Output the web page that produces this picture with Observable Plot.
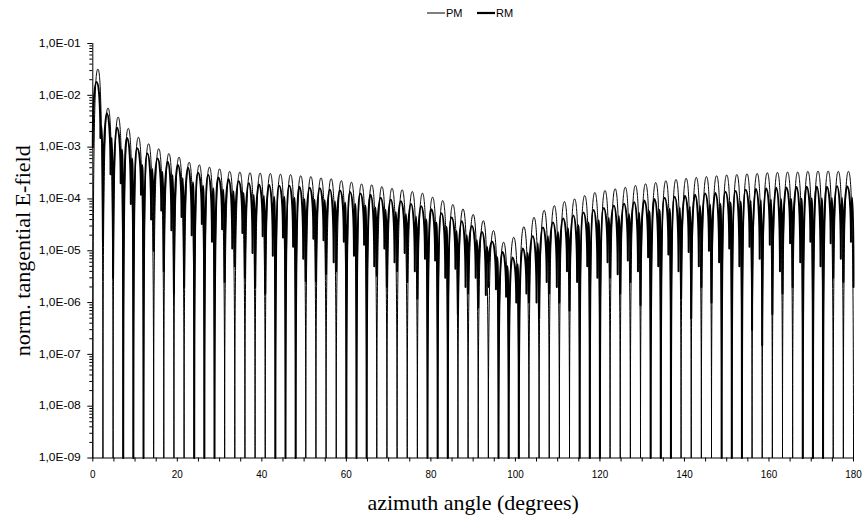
<!DOCTYPE html>
<html>
<head>
<meta charset="utf-8">
<script src="https://cdn.jsdelivr.net/npm/d3@7"></script>
<script src="https://cdn.jsdelivr.net/npm/@observablehq/plot@0.6"></script>
<style>
  body { margin: 0; background: #fff; }
  #wrap { width: 863px; height: 521px; position: relative; overflow: hidden; }
  #legend { height: 24px; position: relative; }
</style>
</head>
<body>
<div id="wrap">
  <div id="legend"></div>
  <div id="chart"></div>
</div>
<script>
// ---- data ----
const seriesNames = ["PM", "RM"];
const FLOOR = 1e-9;             // value at the bottom of the axis (nulls)
const F = FLOOR;
const period = 2.4;             // degrees between successive nulls
const yTickValues = [1e-9, 1e-8, 1e-7, 1e-6, 1e-5, 1e-4, 1e-3, 1e-2, 1e-1];
const xTickLabels = [0, 20, 40, 60, 80, 100, 120, 140, 160, 180];

// PM: lobe maxima (75 lobes); every null between lobes drops to the floor
const pmPeak = [
  3.2e-2, 5.7e-3, 3.8e-3, 2.3e-3, 1.55e-3, 1.16e-3, 9.3e-4, 7.5e-4, 6.4e-4, 5.1e-4,
  4.55e-4, 4.1e-4, 3.8e-4, 3.4e-4, 3.3e-4, 3.2e-4, 3.15e-4, 3.1e-4, 3.0e-4, 2.95e-4,
  2.8e-4, 2.7e-4, 2.55e-4, 2.45e-4, 2.25e-4, 2.1e-4, 1.95e-4, 1.87e-4, 1.73e-4, 1.6e-4,
  1.5e-4, 1.39e-4, 1.29e-4, 1.08e-4, 9.3e-5, 7.8e-5, 6.4e-5, 5.0e-5, 3.8e-5, 2.45e-5,
  1.46e-5, 1.82e-5, 2.9e-5, 4.4e-5, 6.0e-5, 7.4e-5, 8.9e-5, 1.0e-4, 1.16e-4, 1.33e-4,
  1.45e-4, 1.57e-4, 1.68e-4, 1.82e-4, 1.96e-4, 2.07e-4, 2.24e-4, 2.37e-4, 2.5e-4, 2.6e-4,
  2.7e-4, 2.8e-4, 2.9e-4, 2.95e-4, 3.05e-4, 3.1e-4, 3.2e-4, 3.25e-4, 3.3e-4, 3.3e-4,
  3.4e-4, 3.45e-4, 3.45e-4, 3.4e-4, 3.4e-4
];
const pmDip = new Array(76).fill(FLOOR);

// RM: lobe maxima (75 lobes)
const rmPeak = [
  1.8e-2, 4.5e-3, 2.4e-3, 1.5e-3, 9.5e-4, 7.5e-4, 6.0e-4, 5.2e-4, 4.5e-4, 4.0e-4,
  3.2e-4, 2.9e-4, 2.6e-4, 2.4e-4, 2.2e-4, 2.0e-4, 1.9e-4, 1.85e-4, 1.8e-4, 1.8e-4,
  1.7e-4, 1.65e-4, 1.6e-4, 1.5e-4, 1.45e-4, 1.35e-4, 1.28e-4, 1.2e-4, 1.05e-4, 9.7e-5,
  9.0e-5, 8.0e-5, 7.2e-5, 6.3e-5, 5.3e-5, 4.4e-5, 3.7e-5, 3.0e-5, 2.3e-5, 1.5e-5,
  9.5e-6, 7.4e-6, 1.1e-5, 1.9e-5, 2.8e-5, 3.5e-5, 4.2e-5, 4.8e-5, 5.5e-5, 6.1e-5,
  6.7e-5, 7.4e-5, 8.1e-5, 8.6e-5, 9.3e-5, 1.0e-4, 1.05e-4, 1.1e-4, 1.15e-4, 1.2e-4,
  1.27e-4, 1.3e-4, 1.37e-4, 1.43e-4, 1.5e-4, 1.55e-4, 1.6e-4, 1.65e-4, 1.67e-4, 1.7e-4,
  1.72e-4, 1.72e-4, 1.72e-4, 1.75e-4, 1.75e-4
];
// RM near each null n (n = 1..75): a shallow dip, a small rebound, then the deep dip
const rmDipA = [
  null, 1.5e-3, 3e-4, 2e-4, 8e-5, 1.2e-4, 4e-5, 6e-5, 2.5e-5, 4.5e-5,
  2e-5, 3.3e-5, 1.5e-5, 2.6e-5, 1.1e-5, 2.2e-5, 9e-6, 1.9e-5, 8e-6, 1.8e-5,
  1.2e-5, 7e-6, 1.7e-5, 1.6e-5, 6e-6, 1.5e-5, 8e-6, 1.3e-5, 5e-6, 1.1e-5,
  6e-6, 9e-6, 4e-6, 7e-6, 6.5e-6, 3e-6, 4.5e-6, 2e-6, 3e-6, 1.4e-6,
  1.8e-6, 1.3e-6, 1e-6, 1.5e-6, 1e-6, 2.5e-6, 2e-6, 4e-6, 2.5e-6, 5e-6,
  3e-6, 6e-6, 3.5e-6, 6.5e-6, 4e-6, 7.5e-6, 5e-6, 8.5e-6, 4e-6, 9.5e-6,
  5e-6, 1e-5, 6e-6, 1.1e-5, 5e-6, 1.2e-5, 7e-6, 1.3e-5, 4e-6, 1.4e-5,
  6e-6, 1.5e-5, 5e-6, 1.4e-5, 7e-6, 1.5e-5
];
const rmMid = [
  null, 2.5e-3, 1.5e-3, 9e-4, 6e-4, 4.5e-4, 3.8e-4, 3.3e-4, 2.9e-4, 2.5e-4,
  2.1e-4, 1.8e-4, 1.6e-4, 1.5e-4, 1.4e-4, 1.3e-4, 1.2e-4, 1.15e-4, 1.1e-4, 1.1e-4,
  1.05e-4, 1.0e-4, 9.8e-5, 9.5e-5, 9e-5, 8.5e-5, 8e-5, 7.5e-5, 6.8e-5, 6.2e-5,
  5.6e-5, 5.1e-5, 4.6e-5, 4e-5, 3.5e-5, 2.9e-5, 2.4e-5, 2e-5, 1.6e-5, 1.2e-5,
  7.5e-6, 5e-6, 5.5e-6, 9e-6, 1.4e-5, 1.9e-5, 2.3e-5, 2.7e-5, 3.1e-5, 3.5e-5,
  3.9e-5, 4.3e-5, 4.7e-5, 5.1e-5, 5.4e-5, 5.8e-5, 6.2e-5, 6.5e-5, 6.8e-5, 7.1e-5,
  7.4e-5, 7.8e-5, 8.1e-5, 8.5e-5, 8.9e-5, 9.2e-5, 9.5e-5, 9.8e-5, 1.0e-4, 1.0e-4,
  1.02e-4, 1.03e-4, 1.03e-4, 1.04e-4, 1.05e-4, 1.05e-4
];
const rmDipB = [
  1e-3, 1.5e-5, 3e-6, F, F, F, 1e-5, 4e-6, 1.5e-6, 2e-6,
  F, F, F, 2.5e-6, 5e-6, 3e-6, 2e-6, 1.5e-6, F, F,
  F, 2.6e-6, 2.6e-6, 3.5e-6, 4e-6, F, F, F, 3.3e-6, 2e-6,
  4e-6, 2.5e-6, 1.2e-6, F, F, F, 6e-7, 1.5e-6, 8e-7, 2e-6,
  F, F, F, 1e-6, 5e-7, 1.5e-6, 1e-6, 7e-7, F, F,
  F, 3e-6, 1.5e-6, 2.5e-6, 9e-7, F, F, F, 1.2e-6, 5e-7,
  2e-6, 1e-6, F, F, F, 3e-7, 1.5e-7, 6e-7, 1.5e-6, 2e-6,
  F, F, F, 3e-6, 2.5e-6, 2e-6
];

// ---- build tables (positions relative to the null grid) ----
const pmData = [];
for (let n = 0; n < pmDip.length; n++) {
  pmData.push({series: seriesNames[0], angle: n * period, value: pmDip[n]});
  if (n < pmPeak.length) pmData.push({series: seriesNames[0], angle: n * period + period / 2, value: pmPeak[n]});
}
const rmData = [{series: seriesNames[1], angle: 0, value: rmDipB[0]}];
for (let k = 0; k < rmPeak.length; k++) {
  const n = k + 1;
  rmData.push({series: seriesNames[1], angle: k * period + 0.9, value: rmPeak[k]});
  rmData.push({series: seriesNames[1], angle: n * period - 0.6, value: rmDipA[n]});
  rmData.push({series: seriesNames[1], angle: n * period - 0.3, value: rmMid[n]});
  rmData.push({series: seriesNames[1], angle: n * period, value: rmDipB[n]});
}

// lobe-shaped joins: rounded tops, steep flanks into the minima
function lobeCurve(context) {
  let px, py, n = 0;
  return {
    areaStart() {}, areaEnd() {},
    lineStart() { n = 0; },
    lineEnd() {},
    point(x, y) {
      x = +x; y = +y;
      if (n === 0) context.moveTo(x, y);
      else {
        const dx = x - px, H = y - py;
        if (Math.abs(H) < 0.5) context.lineTo(x, y);
        else if (H > 0) {
          const k = Math.min(40, 0.35 * H);
          context.bezierCurveTo(px + 0.55 * dx, py, x, py + k, x, y);
        } else {
          const k = Math.min(40, -0.35 * H);
          context.bezierCurveTo(px, y + k, x - 0.55 * dx, y, x, y);
        }
      }
      px = x; py = y; n++;
    }
  };
}

const minorY = [];
for (let e = -9; e < -1; e++) for (let m = 2; m <= 9; m++) minorY.push(m * Math.pow(10, e));

const fmtY = d => "1,0E-0" + Math.round(-Math.log10(d));
const serif = "Liberation Serif, Times New Roman, serif";

const W = 863, H = 497;
const plot = Plot.plot({
  width: W, height: H,
  marginLeft: 92.3, marginRight: 10, marginTop: 19, marginBottom: 63.5,
  style: {fontFamily: "Liberation Sans, Arial, sans-serif", background: "white", color: "black"},
  x: {domain: [0, 180]},
  y: {type: "log", domain: [1e-9, 1e-1]},
  marks: [
    Plot.line(pmData, {x: "angle", y: "value", curve: lobeCurve, stroke: "black", strokeWidth: 1}),
    Plot.line(rmData, {x: "angle", y: "value", curve: lobeCurve, stroke: "black", strokeWidth: 2}),
    Plot.ruleX([0], {stroke: "black", strokeWidth: 1}),
    Plot.ruleY([1e-9], {stroke: "black", strokeWidth: 1}),
    Plot.axisY({ticks: minorY, tickSize: 3, tickFormat: null, label: null, stroke: "black"}),
    Plot.axisY({ticks: yTickValues, tickSize: 5, tickPadding: 7, tickFormat: fmtY, label: null, fontSize: 10, stroke: "black"}),
    Plot.axisX({ticks: d3.range(0, 181, 5), tickSize: 4, tickPadding: 8, label: null, fontSize: 11,
      tickFormat: d => xTickLabels.includes(d) ? String(d) : ""}),
    Plot.text(["azimuth angle (degrees)"], {frameAnchor: "bottom", textAnchor: "middle", dy: 52, fontSize: 22,
      fontFamily: serif, fill: "black"}),
    Plot.text(["norm. tangential E-field"], {frameAnchor: "left", textAnchor: "middle", dx: -70, rotate: -90, fontSize: 22,
      fontFamily: serif, fill: "black"})
  ]
});
document.getElementById("chart").appendChild(plot);

// narrow tick label glyphs, like the original's condensed font
plot.querySelectorAll('[aria-label="y-axis tick label"] text').forEach(t => {
  t.setAttribute("textLength", 42); t.setAttribute("lengthAdjust", "spacingAndGlyphs");
});
plot.querySelectorAll('[aria-label="x-axis tick label"] text').forEach(t => {
  const s = t.textContent;
  if (s) { t.setAttribute("textLength", 5.5 * s.length); t.setAttribute("lengthAdjust", "spacingAndGlyphs"); }
});

// legend
const lg = d3.select("#legend").append("svg").attr("width", W).attr("height", 24);
const items = [{name: seriesNames[0], x: 427, w: 1}, {name: seriesNames[1], x: 477, w: 2.2}];
items.forEach(it => {
  lg.append("line").attr("x1", it.x).attr("x2", it.x + 18).attr("y1", 13).attr("y2", 13)
    .attr("stroke", "black").attr("stroke-width", it.w);
  lg.append("text").attr("x", it.x + 19).attr("y", 17).attr("font-size", 11)
    .attr("font-family", "Liberation Sans, Arial, sans-serif").text(it.name);
});
</script>
</body>
</html>
